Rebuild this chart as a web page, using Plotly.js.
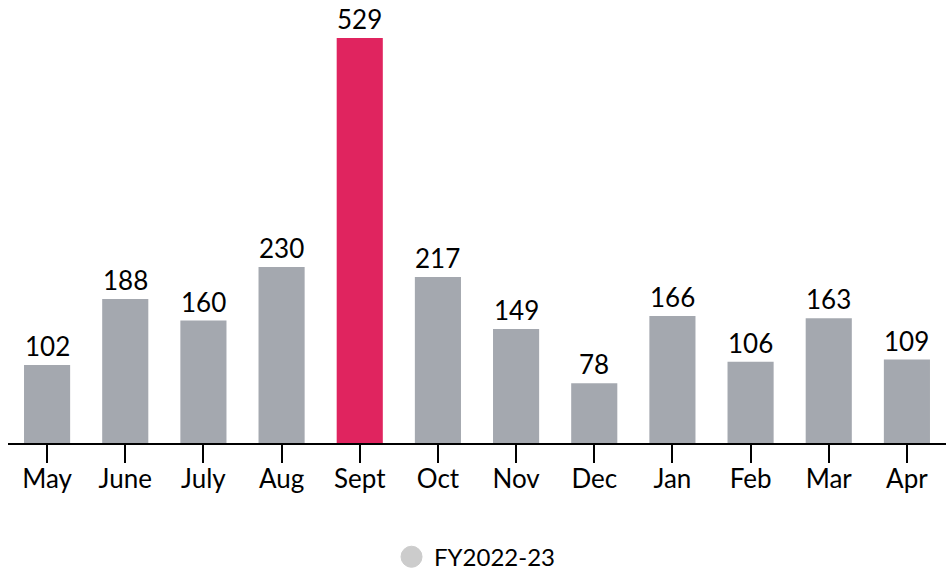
<!DOCTYPE html>
<html>
<head>
<meta charset="utf-8">
<script src="https://cdn.plot.ly/plotly-3.0.1.min.js"></script>
<style>html,body{margin:0;padding:0;background:#fff;}#chart{width:952px;height:571px;}</style>
</head>
<body>
<div id="chart"></div>
<script>
const months = ["May","June","July","Aug","Sept","Oct","Nov","Dec","Jan","Feb","Mar","Apr"];
const values = [102,188,160,230,529,217,149,78,166,106,163,109];
const seriesName = "FY2022-23";
const highlightMonth = "Sept";

const grey = "#a4a8af";
const pink = "#e0245f";
const legendGrey = "#cccccc";
const colors = months.map(m => m === highlightMonth ? pink : grey);
const FONT = "Lato, sans-serif";

const bars = {
  type: "bar",
  x: months,
  y: values,
  marker: {color: colors},
  showlegend: false,
  hoverinfo: "x+y"
};
const legendItem = {
  type: "scatter",
  mode: "markers",
  x: [null], y: [null],
  name: seriesName,
  marker: {color: "rgba(0,0,0,0)", size: 16, symbol: "circle"},
  showlegend: true
};

const annotations = months.map((m, i) => ({
  x: m, y: values[i], xref: "x", yref: "y",
  text: String(values[i]),
  showarrow: false, yanchor: "bottom", yshift: 1,
  font: {family: FONT, size: 26, color: "#000", weight: 400}
}));

const layout = {
  width: 952, height: 571,
  margin: {l: 8, r: 6, t: 22, b: 128, autoexpand: false},
  paper_bgcolor: "#fff", plot_bgcolor: "#fff",
  font: {family: FONT, color: "#000", weight: 400},
  bargap: 0.41,
  xaxis: {
    type: "category",
    showline: true, linecolor: "#000", linewidth: 2,
    ticks: "outside", ticklen: 18, tickwidth: 2, tickcolor: "#000",
    tickfont: {family: FONT, size: 26, color: "#000", weight: 400},
    ticklabelstandoff: -6,
    showgrid: false, zeroline: false
  },
  yaxis: {
    range: [0, 550],
    visible: false, showgrid: false, zeroline: false
  },
  annotations: annotations,
  shapes: [{
    type: "circle", xref: "paper", yref: "paper", layer: "above",
    x0: 0.4190, x1: 0.4414, y0: -0.2952, y1: -0.2452,
    fillcolor: legendGrey, line: {color: legendGrey, width: 1}
  }],
  showlegend: true,
  legend: {
    orientation: "h", x: 0.5, xanchor: "center", y: -0.27, yanchor: "middle",
    bgcolor: "rgba(0,0,0,0)",
    font: {family: FONT, size: 24, color: "#000", weight: 400}
  }
};

Plotly.newPlot("chart", [bars, legendItem], layout, {displayModeBar: false, staticPlot: true});
</script>
</body>
</html>
